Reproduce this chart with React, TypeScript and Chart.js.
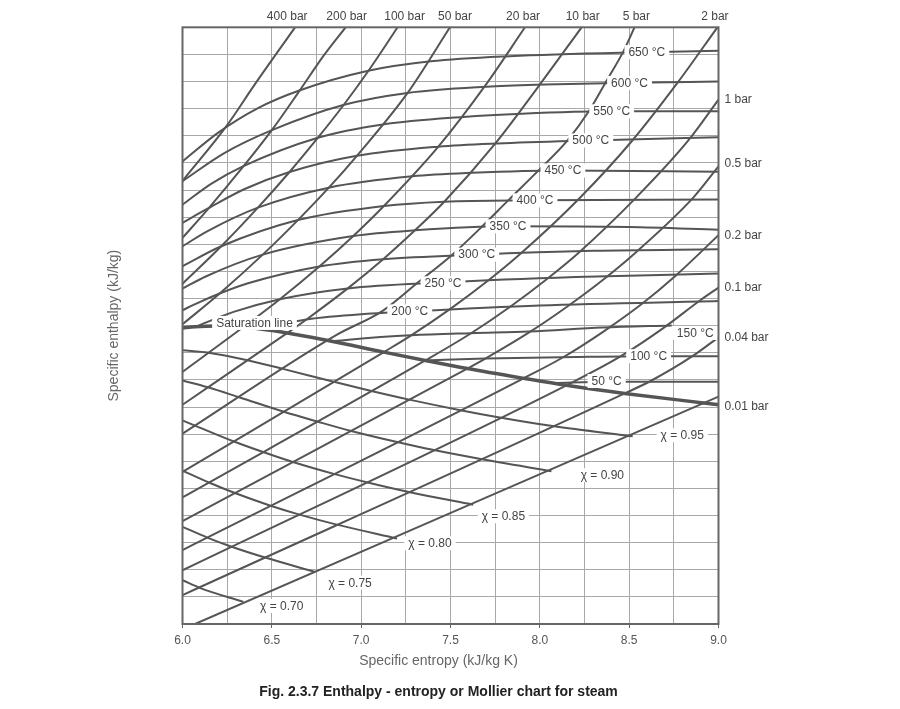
import React, { useEffect, useRef } from 'react';
import { Chart, registerables } from 'chart.js';

Chart.register(...registerables);

type Pt = [number, number];

const FONT = '"Liberation Sans", Arial, Helvetica, sans-serif';
const LINE = '#555555';

// axis range (entropy kJ/kg K, enthalpy kJ/kg)
const sMin = 6.0;
const sMax = 9.0;
const hMin = 1700;
const hMax = 3910;

// isobars, [s, h]
const bar400: Pt[] = [[6.0, 3341], [6.25, 3548], [6.4, 3694], [6.63, 3910]];
const bar200: Pt[] = [[6.0, 3130], [6.14, 3235], [6.335, 3390], [6.504, 3533], [6.65, 3670], [6.79, 3805], [6.913, 3910]];
const bar100: Pt[] = [[6.0, 2960], [6.214, 3097], [6.422, 3242], [6.599, 3374], [6.758, 3501], [6.905, 3625], [7.04, 3748], [7.204, 3910]];
const bar50: Pt[] = [[6.0, 2810], [6.208, 2924], [6.449, 3068], [6.646, 3196], [6.819, 3316], [6.976, 3434], [7.259, 3666], [7.497, 3910]];
const bar20: Pt[] = [[6.0, 2634], [6.341, 2800], [6.545, 2903], [6.766, 3024], [6.956, 3137], [7.127, 3248], [7.432, 3468], [7.69, 3690], [7.917, 3910]];
const bar10: Pt[] = [[6.0, 2512], [6.587, 2778], [6.694, 2828], [6.925, 2943], [7.123, 3051], [7.301, 3158], [7.465, 3264], [7.75, 3479], [8.0, 3698], [8.234, 3910]];
const bar5: Pt[] = [[6.0, 2405], [6.86, 2770], [7.118, 2859], [7.314, 2963], [7.51, 3068], [7.678, 3173], [7.823, 3269], [7.993, 3380], [8.155, 3491], [8.273, 3598], [8.368, 3706], [8.467, 3820], [8.53, 3910]];
const bar2: Pt[] = [[6.0, 2263], [7.127, 2707], [7.28, 2769], [7.507, 2871], [7.709, 2971], [7.893, 3072], [8.222, 3277], [8.513, 3487], [8.77, 3704], [8.994, 3910]];
const bar1: Pt[] = [[6.0, 2169], [7.359, 2676], [7.613, 2776], [7.834, 2875], [8.033, 2974], [8.216, 3074], [8.54, 3280], [8.83, 3490], [9.0, 3642]];
const bar05: Pt[] = [[6.0, 2081], [7.594, 2646], [7.695, 2683], [7.94, 2780], [8.158, 2878], [8.356, 2976], [8.537, 3076], [8.86, 3280], [9.0, 3395]];
const bar02: Pt[] = [[6.0, 1974], [7.909, 2610], [8.128, 2687], [8.36, 2785], [8.57, 2885], [8.76, 2990], [9.0, 3140]];
const bar01: Pt[] = [[6.0, 1899], [8.149, 2584], [8.449, 2690], [8.689, 2795], [8.9, 2900], [9.0, 2946]];
const bar004: Pt[] = [[6.0, 1807], [8.475, 2554], [8.62, 2600], [8.85, 2690], [9.0, 2762]];
const bar001: Pt[] = [[6.07, 1700], [9.0, 2542]];

const topBarLabels = ['400 bar', '200 bar', '100 bar', '50 bar', '20 bar', '10 bar', '5 bar', '2 bar'];
const topBarS = [6.586, 6.919, 7.243, 7.525, 7.906, 8.24, 8.54, 8.98];
const sideBarLabels = ['1 bar', '0.5 bar', '0.2 bar', '0.1 bar', '0.04 bar', '0.01 bar'];
const sideBarH = [3642, 3405, 3140, 2946, 2761, 2504];

// isotherms
const t650: Pt[] = [[6.0, 3413], [6.2, 3520], [6.42, 3610], [6.65, 3675], [7.04, 3749], [7.39, 3784], [7.83, 3803], [8.6, 3818], [9.0, 3823]];
const t600: Pt[] = [[6.0, 3340], [6.234, 3444], [6.504, 3530], [6.905, 3623], [7.259, 3667], [7.702, 3690], [8.03, 3698], [8.5, 3705], [9.0, 3709]];
const t550: Pt[] = [[6.0, 3253], [6.16, 3330], [6.335, 3394], [6.758, 3501], [7.121, 3550], [7.571, 3578], [7.9, 3590], [8.4, 3599], [9.0, 3599]];
const t500: Pt[] = [[6.0, 3186], [6.14, 3238], [6.348, 3311], [6.599, 3374], [6.976, 3434], [7.432, 3468], [7.762, 3480], [8.285, 3491], [9.0, 3503]];
const t450: Pt[] = [[6.0, 3099], [6.143, 3156], [6.422, 3242], [6.819, 3316], [7.287, 3358], [7.619, 3371], [8.13, 3380], [9.0, 3375]];
const t400: Pt[] = [[6.0, 3025], [6.214, 3098], [6.646, 3196], [7.127, 3248], [7.465, 3264], [7.973, 3269], [9.0, 3272]];
const t350: Pt[] = [[6.0, 2942], [6.13, 2987], [6.449, 3068], [6.956, 3137], [7.301, 3158], [7.822, 3173], [8.5, 3170], [9.0, 3160]];
const t300: Pt[] = [[6.0, 2862], [6.068, 2884], [6.208, 2924], [6.362, 2961], [6.766, 3024], [7.123, 3051], [7.647, 3068], [8.3, 3082], [9.0, 3088]];
const t250: Pt[] = [[6.073, 2801], [6.286, 2856], [6.545, 2903], [6.925, 2943], [7.458, 2965], [8.2, 2985], [9.0, 2998]];
const t200: Pt[] = [[6.432, 2793], [6.498, 2803], [6.694, 2828], [7.059, 2850], [7.272, 2858], [8.0, 2880], [9.0, 2896]];
const t150: Pt[] = [[6.838, 2747], [6.93, 2753], [7.28, 2769], [7.613, 2777], [7.94, 2783], [8.35, 2798], [8.738, 2806]];
const t100: Pt[] = [[7.355, 2676], [7.695, 2683], [8.2, 2689], [8.609, 2692], [9.0, 2692]];
const t50: Pt[] = [[8.076, 2592], [8.374, 2597], [9.0, 2597]];

const tempLabels = ['650 °C', '600 °C', '550 °C', '500 °C', '450 °C', '400 °C', '350 °C', '300 °C', '250 °C', '200 °C', '150 °C', '100 °C', '50 °C'];
const tempLabelS = [8.599, 8.502, 8.402, 8.285, 8.129, 7.973, 7.822, 7.647, 7.458, 7.272, 8.87, 8.609, 8.374];
const tempLabelH = [3818, 3704, 3599, 3491, 3380, 3269, 3173, 3068, 2962, 2858, 2778, 2692, 2600];

// dryness fraction lines
const x95: Pt[] = [[6.0, 2714], [6.146, 2705], [6.364, 2677], [6.573, 2643], [6.847, 2597], [7.057, 2563], [7.269, 2531], [7.555, 2492], [7.775, 2465], [8.072, 2433], [8.52, 2395]];
const x90: Pt[] = [[6.0, 2602], [6.142, 2577], [6.325, 2538], [6.567, 2486], [6.754, 2450], [6.944, 2415], [7.201, 2374], [7.4, 2345], [7.669, 2311], [8.065, 2266]];
const x85: Pt[] = [[6.0, 2454], [6.077, 2433], [6.288, 2376], [6.451, 2337], [6.618, 2300], [6.847, 2256], [7.025, 2226], [7.267, 2189], [7.627, 2142]];
const x80: Pt[] = [[6.0, 2268], [6.148, 2224], [6.293, 2185], [6.493, 2138], [6.65, 2106], [6.864, 2068], [7.201, 2017]];
const x75: Pt[] = [[6.0, 2060], [6.139, 2020], [6.275, 1986], [6.462, 1946], [6.742, 1893]];
const x70: Pt[] = [[6.0, 1862], [6.1, 1833], [6.341, 1782]];

const qualityLabels = ['χ = 0.95', 'χ = 0.90', 'χ = 0.85', 'χ = 0.80', 'χ = 0.75', 'χ = 0.70'];
const qualityLabelS = [8.797, 8.35, 7.796, 7.385, 6.938, 6.555];
const qualityLabelH = [2399, 2251, 2099, 1999, 1853, 1767];

// saturated vapour line
const satLine: Pt[] = [[6.0, 2796], [6.07, 2801], [6.187, 2804], [6.341, 2800], [6.587, 2778], [6.821, 2749], [7.127, 2707], [7.359, 2676], [7.594, 2646], [7.909, 2610], [8.149, 2584], [8.475, 2554], [8.976, 2514], [9.0, 2512]];

const isobars = [bar400, bar200, bar100, bar50, bar20, bar10, bar5, bar2, bar1, bar05, bar02, bar01, bar004, bar001];
const isotherms = [t650, t600, t550, t500, t450, t400, t350, t300, t250, t200, t150, t100, t50];
const qualityLines = [x95, x90, x85, x80, x75, x70];

const toXY = (pts: Pt[]) => pts.map(([s, h]) => ({ x: s, y: h }));

const yLabelled = (v: number) => v % 200 === 0 && v >= 1800 && v <= 3800;
const xLabelled = (v: number) => Math.abs(v * 2 - Math.round(v * 2)) < 1e-6;

const labelPlugin = {
  id: 'mollierLabels',
  afterDatasetsDraw(chart: any) {
    const { ctx, chartArea: a } = chart;
    const xs = chart.scales.x;
    const ys = chart.scales.y;
    ctx.save();
    ctx.font = `12px ${FONT}`;
    ctx.textBaseline = 'middle';
    ctx.textAlign = 'center';

    const boxed = (text: string, s: number, h: number) => {
      const px = xs.getPixelForValue(s);
      const py = ys.getPixelForValue(h);
      const w = ctx.measureText(text).width;
      ctx.fillStyle = '#ffffff';
      ctx.fillRect(px - w / 2 - 4, py - 7, w + 8, 14);
      ctx.fillStyle = '#444444';
      ctx.fillText(text, px, py + 0.5);
    };

    tempLabels.forEach((t, i) => boxed(t, tempLabelS[i], tempLabelH[i]));
    qualityLabels.forEach((t, i) => boxed(t, qualityLabelS[i], qualityLabelH[i]));
    boxed('Saturation line', 6.403, 2815);

    // plot frame
    ctx.strokeStyle = '#666666';
    ctx.lineWidth = 2;
    ctx.strokeRect(a.left, a.top, a.right - a.left, a.bottom - a.top);

    // pressure labels outside the plot
    ctx.fillStyle = '#444444';
    topBarLabels.forEach((t, i) => {
      ctx.fillText(t, xs.getPixelForValue(topBarS[i]), a.top - 11);
    });
    ctx.textAlign = 'left';
    sideBarLabels.forEach((t, i) => {
      ctx.fillText(t, a.right + 6, ys.getPixelForValue(sideBarH[i]));
    });

    // x title and caption
    ctx.textAlign = 'center';
    ctx.fillStyle = '#666666';
    ctx.font = `14px ${FONT}`;
    ctx.fillText('Specific entropy (kJ/kg K)', 438.5, 661);
    ctx.fillStyle = '#222222';
    ctx.font = `bold 14px ${FONT}`;
    ctx.fillText('Fig. 2.3.7 Enthalpy - entropy or Mollier chart for steam', 438.5, 692);
    ctx.restore();
  },
};

function App() {
  const canvasRef = useRef<HTMLCanvasElement>(null);

  useEffect(() => {
    if (!canvasRef.current) return;
    const plain = (pts: Pt[]) => ({
      data: toXY(pts),
      showLine: true,
      borderColor: LINE,
      borderWidth: 2,
      pointRadius: 0,
      fill: false,
      cubicInterpolationMode: 'monotone',
    });

    const datasets: any[] = [
      ...isobars.map((p) => plain(p)),
      ...isotherms.map((p) => plain(p)),
      ...qualityLines.map((p) => plain(p)),
      { ...plain(satLine), borderWidth: 3.5 },
    ];

    const chart = new Chart(canvasRef.current, {
      type: 'scatter',
      data: { datasets },
      options: {
        responsive: false,
        animation: false,
        events: [],
        layout: { padding: { left: 0, top: 27.3, right: 181.5, bottom: 0 } },
        plugins: { legend: { display: false }, tooltip: { enabled: false } },
        scales: {
          x: {
            type: 'linear',
            min: sMin,
            max: sMax,
            afterFit: (scale: any) => { scale.height = 85; },
            border: { display: false },
            grid: {
              color: '#a8a8a8',
              lineWidth: 1,
              tickLength: 4,
              tickColor: (c: any) => (c.tick && xLabelled(c.tick.value) ? '#666666' : 'rgba(0,0,0,0)'),
            },
            ticks: {
              stepSize: 0.25,
              autoSkip: false,
              maxRotation: 0,
              padding: 5,
              color: '#555555',
              font: { family: FONT, size: 12 },
              callback: (v: any) => (xLabelled(Number(v)) ? Number(v).toFixed(1) : ''),
            },
          },
          y: {
            type: 'linear',
            min: hMin,
            max: hMax,
            afterFit: (scale: any) => { scale.width = 182.5; },
            border: { display: false },
            grid: {
              color: '#a8a8a8',
              lineWidth: 1,
              tickLength: 4,
              tickColor: (c: any) => (c.tick && yLabelled(c.tick.value) ? '#666666' : 'rgba(0,0,0,0)'),
            },
            ticks: {
              stepSize: 100,
              autoSkip: false,
              padding: 7,
              color: '#555555',
              font: { family: FONT, size: 12 },
              callback: (v: any) => {
                const n = Number(v);
                if (!yLabelled(n)) return '';
                return `${Math.floor(n / 1000)} ${String(n % 1000).padStart(3, '0')}`;
              },
            },
            title: {
              display: true,
              text: 'Specific enthalpy (kJ/kg)',
              color: '#666666',
              font: { family: FONT, size: 14 },
              padding: { top: 105.6, bottom: 0 },
            },
          },
        },
      } as any,
      plugins: [labelPlugin],
    });

    return () => {
      chart.destroy();
    };
  }, []);

  return (
    <div style={{ position: 'absolute', left: 0, top: 0, width: 900, height: 709, background: '#fff' }}>
      <canvas ref={canvasRef} width={900} height={709} style={{ width: 900, height: 709 }} />
    </div>
  );
}

export default App;
